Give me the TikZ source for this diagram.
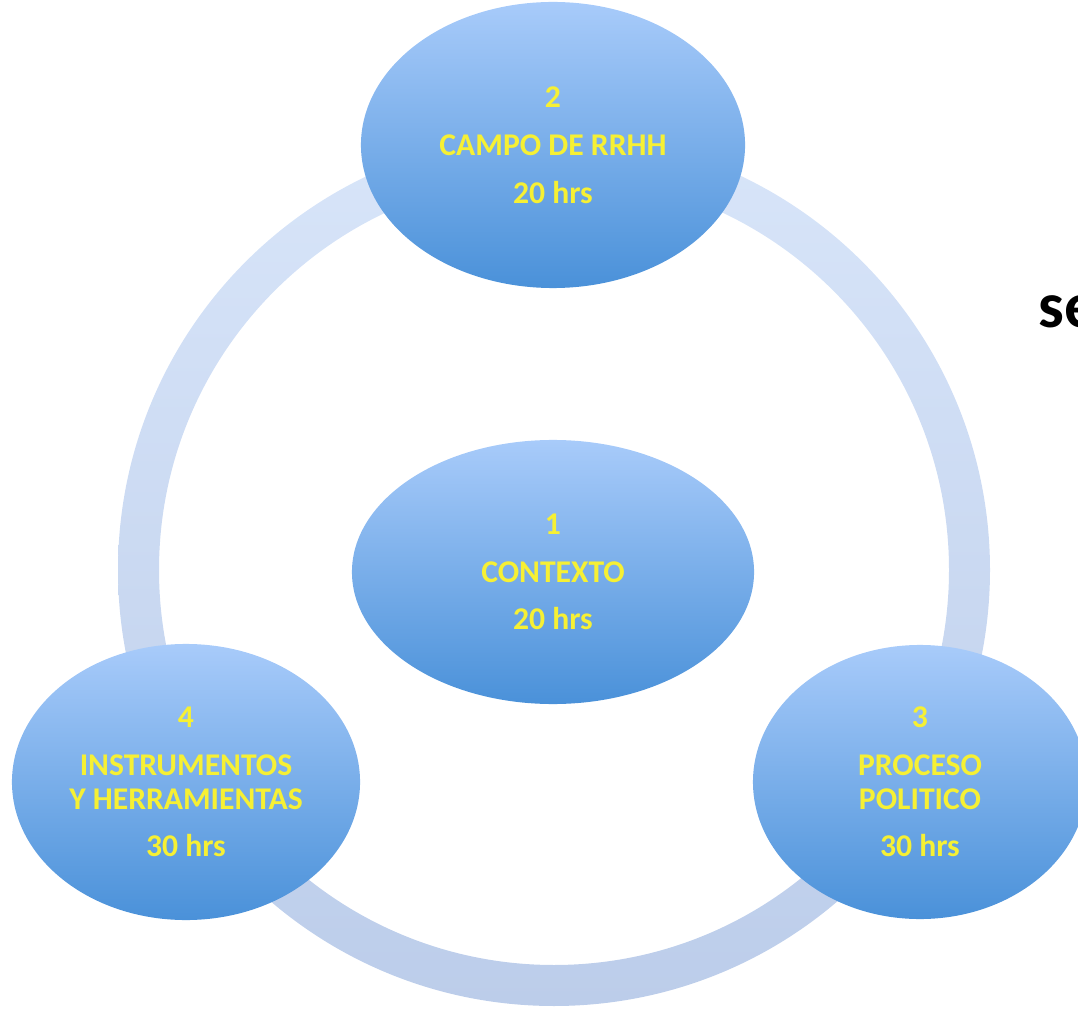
\documentclass[tikz,border=0pt]{standalone}
\usepackage{fontspec}
\setmainfont{Carlito}
\usetikzlibrary{shapes.geometric}
\definecolor{elltop}{RGB}{168,203,250}
\definecolor{ellbot}{RGB}{74,145,217}
\definecolor{ringtop}{RGB}{216,229,249}
\definecolor{ringbot}{RGB}{188,205,234}
\definecolor{txtyellow}{RGB}{246,240,52}
\begin{document}
\begin{tikzpicture}[x=0.025cm,y=0.025cm,
    etapa/.style={ellipse,inner sep=0pt,top color=elltop,bottom color=ellbot,
      align=center,text=txtyellow,font=\fontsize{22.5}{24}\selectfont\bfseries}]
    \useasboundingbox (0,0) rectangle (1078,1009);
    \clip (0,0) rectangle (1078,1009);
    % anillo
    \shade [top color=ringtop,bottom color=ringbot,even odd rule]
        (554,439) circle [radius=436] (554,439) circle [radius=395];
    \node [etapa,minimum width=9.6cm,minimum height=7.15cm] (campo) at(553,864)
        {2\\[10pt] CAMPO DE RRHH\\[10pt] 20 hrs};
    \node [etapa,minimum width=10.05cm,minimum height=6.6cm] (contexto) at(553,437)
        {1\\[10pt] CONTEXTO\\[10pt] 20 hrs};
    \node [etapa,minimum width=8.7cm,minimum height=6.9cm] (instrumentos) at(186,227)
        {4\\[10pt] INSTRUMENTOS\\ Y HERRAMIENTAS\\[10pt] 30 hrs};
    \node [etapa,minimum width=8.35cm,minimum height=6.85cm] (proceso) at(920,227)
        {3\\[10pt] PROCESO\\ POLITICO\\[10pt] 30 hrs};
    \node [anchor=base west,inner sep=0pt,font=\fontsize{46}{50}\selectfont\bfseries] (se) at(1038,681) {se};
\end{tikzpicture}
\end{document}
